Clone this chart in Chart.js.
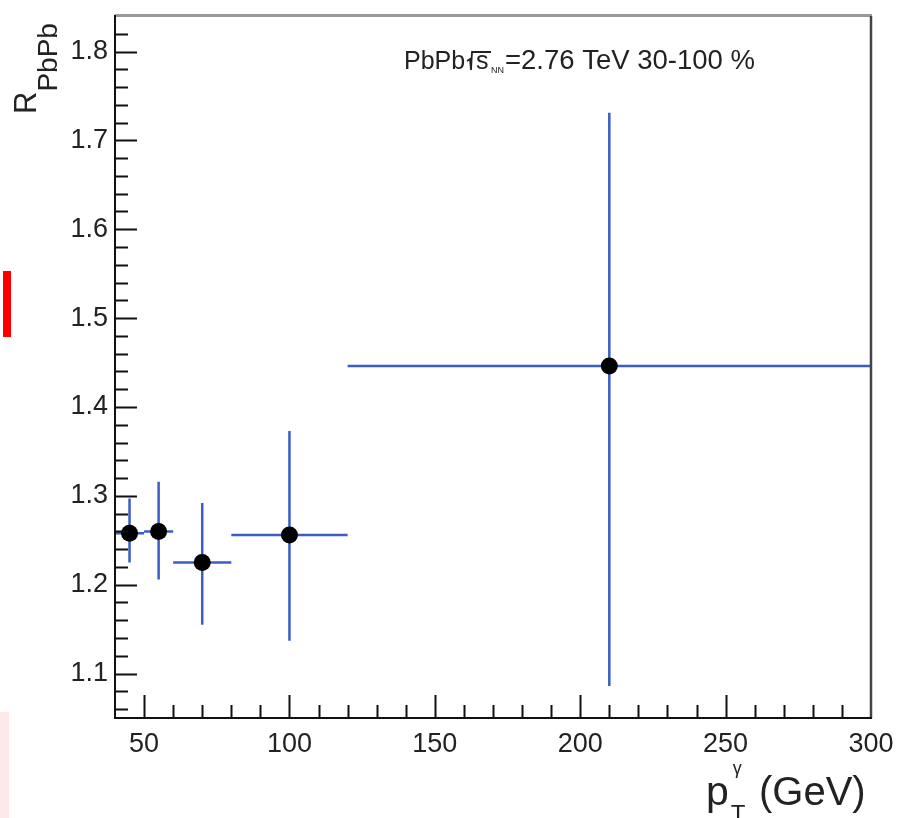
<!DOCTYPE html>
<html>
<head>
<meta charset="utf-8">
<script src="https://cdn.jsdelivr.net/npm/chart.js@4.4.0/dist/chart.umd.min.js"></script>
<style>
  body { margin: 0; background: #fff; }
  #wrap { position: relative; width: 897px; height: 818px; }
  .mark { position: absolute; }
</style>
</head>
<body>
<div id="wrap">
  <canvas id="raaChart" width="897" height="818"></canvas>
  <div class="mark" style="left:3px;top:271px;width:8px;height:66px;background:#ff0000;"></div>
  <div class="mark" style="left:0;top:712px;width:9px;height:106px;background:#fde9e9;"></div>
</div>
<script>
// Datos (pT del fotón en GeV, R_PbPb)
const xVals = [45, 55, 70, 100, 210];
const yVals = [1.258, 1.260, 1.225, 1.256, 1.446];
// ancho del bin
const xLow  = [40, 50, 60, 80, 120];
const xHigh = [50, 60, 80, 120, 300];
// barras de error verticales
const yLow  = [1.225, 1.206, 1.155, 1.137, 1.086];
const yHigh = [1.297, 1.316, 1.292, 1.373, 1.731];

// Etiquetas de los ejes
const xMajor = [50, 100, 150, 200, 250, 300];
const yMajor = [1.1, 1.2, 1.3, 1.4, 1.5, 1.6, 1.7, 1.8];
const xMinorStep = 10;
const yMinorStep = 0.02;

const X_MIN = 40, X_MAX = 300;
const Y_MIN = 1.05, Y_MAX = 1.84;

const FONT = '"Liberation Sans", Arial, Helvetica, sans-serif';
const ERR_COLOR = '#3a5ec4';

// Dibuja las barras de error antes de los puntos
const errorBarPlugin = {
    id: 'errorBars',
    beforeDatasetsDraw(chart) {
        const ctx = chart.ctx;
        const xs = chart.scales.x, ys = chart.scales.y;
        ctx.save();
        ctx.strokeStyle = ERR_COLOR;
        ctx.lineWidth = 2.5;
        for (let i = 0; i < xVals.length; i++) {
            const px = xs.getPixelForValue(xVals[i]);
            const py = ys.getPixelForValue(yVals[i]);
            ctx.beginPath();
            ctx.moveTo(px, ys.getPixelForValue(yLow[i]));
            ctx.lineTo(px, ys.getPixelForValue(yHigh[i]));
            ctx.moveTo(xs.getPixelForValue(xLow[i]), py);
            ctx.lineTo(xs.getPixelForValue(xHigh[i]), py);
            ctx.stroke();
        }
        ctx.restore();
    }
};

// Marco, ticks hacia adentro, títulos y texto estilo ROOT
const framePlugin = {
    id: 'rootFrame',
    afterDraw(chart) {
        const ctx = chart.ctx;
        const a = chart.chartArea;
        const xs = chart.scales.x, ys = chart.scales.y;
        ctx.save();

        // marco
        ctx.lineWidth = 3;
        ctx.strokeStyle = '#999';
        ctx.beginPath(); ctx.moveTo(a.left, a.top - 0.5); ctx.lineTo(a.right + 1, a.top - 0.5); ctx.stroke();
        ctx.lineWidth = 2.5;
        ctx.strokeStyle = '#444';
        ctx.beginPath(); ctx.moveTo(a.right, a.top); ctx.lineTo(a.right, a.bottom); ctx.stroke();
        ctx.lineWidth = 2;
        ctx.strokeStyle = '#111';
        ctx.beginPath();
        ctx.moveTo(a.left, a.top - 1); ctx.lineTo(a.left, a.bottom);
        ctx.lineTo(a.right + 1, a.bottom);
        ctx.stroke();

        // ticks eje y
        ctx.beginPath();
        for (let v = Y_MIN + 0.01; v < Y_MAX; v += yMinorStep) {
            const y = Math.round(ys.getPixelForValue(v)) + 0.5;
            const major = yMajor.some(m => Math.abs(m - v) < 1e-6);
            ctx.moveTo(a.left, y); ctx.lineTo(a.left + (major ? 22 : 13), y);
        }
        // ticks eje x
        for (let v = 50; v < X_MAX; v += xMinorStep) {
            const x = Math.round(xs.getPixelForValue(v)) + 0.5;
            const major = xMajor.includes(v);
            ctx.moveTo(x, a.bottom); ctx.lineTo(x, a.bottom - (major ? 23 : 13));
        }
        ctx.stroke();

        ctx.fillStyle = '#222';
        ctx.textBaseline = 'alphabetic';

        // título eje y: R_PbPb (rotado)
        ctx.save();
        ctx.translate(36, 114);
        ctx.rotate(-Math.PI / 2);
        ctx.font = '31px ' + FONT;
        ctx.fillText('R', 0, 0);
        const wR = ctx.measureText('R').width;
        ctx.font = '28px ' + FONT;
        ctx.fillText('PbPb', wR, 21);
        ctx.restore();

        // título eje x: p_T^γ (GeV)
        ctx.font = '41px ' + FONT;
        ctx.fillText('p', 706, 805);
        const wp = ctx.measureText('p').width;
        ctx.font = '24px ' + FONT;
        ctx.fillText('T', 706 + wp + 2, 822);
        ctx.font = '18px ' + FONT;
        ctx.fillText('γ', 706 + wp + 4, 774);
        ctx.font = '40px ' + FONT;
        ctx.fillText('(GeV)', 759, 805);

        // texto: PbPb √s_NN = 2.76 TeV 30-100 %
        const base = 69;
        ctx.font = '25px ' + FONT;
        ctx.fillText('PbPb', 404, base);
        ctx.lineWidth = 1.8;
        ctx.strokeStyle = '#222';
        ctx.beginPath();
        ctx.moveTo(467, base - 8);
        ctx.lineTo(470, base - 10);
        ctx.lineTo(471, base + 1);
        ctx.lineTo(472, base - 17);
        ctx.lineTo(491, base - 17);
        ctx.stroke();
        ctx.fillText('s', 476, base);
        ctx.font = '9px ' + FONT;
        ctx.fillText('NN', 491, base + 4);
        ctx.font = '27.5px ' + FONT;
        ctx.fillText('=2.76 TeV 30-100 %', 505, base);

        ctx.restore();
    }
};

const ctx = document.getElementById('raaChart').getContext('2d');
const points = xVals.map((v, i) => ({ x: v, y: yVals[i] }));

new Chart(ctx, {
    type: 'scatter',
    data: {
        datasets: [{
            data: points,
            backgroundColor: '#000',
            borderWidth: 0,
            pointRadius: 8.5,
            clip: false
        }]
    },
    options: {
        responsive: false,
        animation: false,
        layout: { padding: { top: 16, right: 26, left: 0, bottom: 0 } },
        plugins: {
            legend: { display: false },
            tooltip: { enabled: false }
        },
        scales: {
            x: {
                type: 'linear',
                min: X_MIN,
                max: X_MAX,
                grid: { display: false, drawTicks: false },
                border: { display: false },
                afterBuildTicks: s => { s.ticks = xMajor.map(v => ({ value: v })); },
                afterFit: s => { s.height = 100; s.paddingLeft = 0; s.paddingRight = 0; },
                ticks: {
                    padding: 10,
                    color: '#222',
                    maxRotation: 0,
                    autoSkip: false,
                    font: { family: FONT, size: 27 }
                }
            },
            y: {
                type: 'linear',
                min: Y_MIN,
                max: Y_MAX,
                grid: { display: false, drawTicks: false },
                border: { display: false },
                afterBuildTicks: s => { s.ticks = yMajor.map(v => ({ value: v })); },
                afterFit: s => { s.width = 115; s.paddingTop = 0; s.paddingBottom = 0; },
                ticks: {
                    padding: 7,
                    color: '#222',
                    autoSkip: false,
                    font: { family: FONT, size: 27 },
                    callback: v => v.toFixed(1)
                }
            }
        }
    },
    plugins: [errorBarPlugin, framePlugin]
});
</script>
</body>
</html>
